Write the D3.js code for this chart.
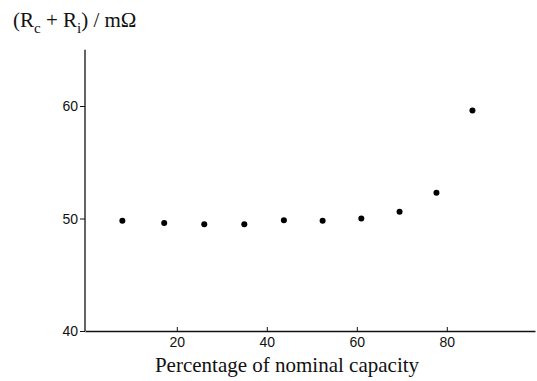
<!DOCTYPE html>
<html>
<head>
<meta charset="UTF-8">
<script src="https://d3js.org/d3.v7.min.js"></script>
<style>
  body { margin: 0; background: #fff; }
  .tick text { font-family: "Liberation Sans", Arial, sans-serif; font-size: 14px; fill: #111; }
  .ttl { font-family: "Liberation Serif", "Times New Roman", serif; fill: #111; }
</style>
</head>
<body>
<script>
// capacity (%) and resistance (mOhm)
var capacity = [7.9, 17.2, 26.1, 35.0, 43.8, 52.4, 61.0, 69.5, 77.7, 85.7];
var resistance = [49.8, 49.6, 49.5, 49.5, 49.85, 49.8, 50.0, 50.6, 52.3, 59.6];
var xTicks = [20, 40, 60, 80];
var yTicks = [40, 50, 60];

var svgWidth = 537, svgHeight = 381;
var svg = d3.select("body").append("svg")
  .attr("width", svgWidth)
  .attr("height", svgHeight);

var x = d3.scaleLinear().domain([-0.4, 99.6]).range([85, 535]);
var y = d3.scaleLinear().domain([40, 60]).range([331, 106]);

// axes
var gX = svg.append("g")
  .attr("transform", "translate(0,331)")
  .call(d3.axisBottom(x).tickValues(xTicks).tickSizeInner(-4).tickSizeOuter(0).tickPadding(6));
var gY = svg.append("g")
  .attr("transform", "translate(85,0)")
  .call(d3.axisLeft(y).tickValues(yTicks).tickSize(5).tickPadding(2));
gY.select(".domain").attr("d", "M0," + y(65) + "V" + y(40));
svg.selectAll(".domain").attr("stroke", "#111").attr("stroke-width", 1.3);
svg.selectAll(".tick line").attr("stroke", "#111");
gX.selectAll(".tick text").attr("dy", "0.71em");
gY.selectAll(".tick text").attr("dy", "0.35em");

// points
svg.selectAll(".dot")
  .data(capacity)
  .enter()
  .append("circle")
  .attr("cx", function(d) { return x(d); })
  .attr("cy", function(d, i) { return y(resistance[i]); })
  .attr("r", 3)
  .attr("fill", "#000");

// titles
svg.append("text")
  .attr("class", "ttl")
  .attr("x", 287).attr("y", 372)
  .attr("text-anchor", "middle")
  .style("font-size", "21px")
  .text("Percentage of nominal capacity");

var yt = svg.append("text")
  .attr("class", "ttl")
  .attr("x", 13).attr("y", 27)
  .style("font-size", "21px");
yt.append("tspan").text("(R");
yt.append("tspan").attr("dy", 6).style("font-size", "15px").text("c");
yt.append("tspan").attr("dy", -6).text(" + R");
yt.append("tspan").attr("dy", 6).style("font-size", "15px").text("i");
yt.append("tspan").attr("dy", -6).text(") / m\u03A9");
</script>
</body>
</html>
